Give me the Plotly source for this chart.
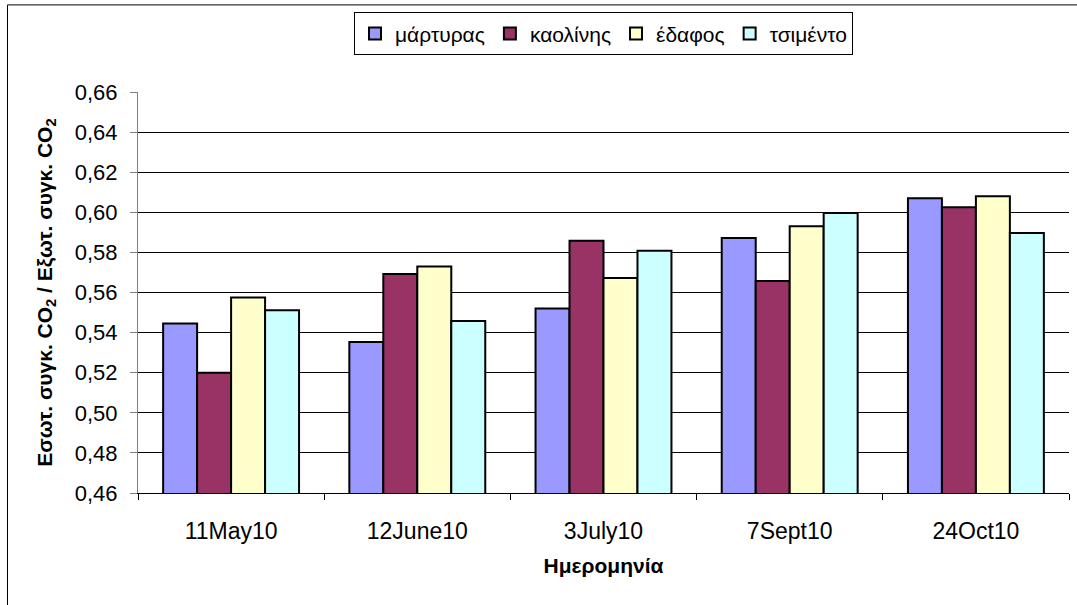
import plotly.graph_objects as go

categories = ["11May10", "12June10", "3July10", "7Sept10", "24Oct10"]
series_names = ["μάρτυρας", "καολίνης", "έδαφος", "τσιμέντο"]
martyras = [0.5445, 0.5353, 0.5520, 0.5872, 0.6070]
kaolinis = [0.5200, 0.5692, 0.5858, 0.5657, 0.6025]
edafos = [0.5575, 0.5730, 0.5672, 0.5930, 0.6080]
tsimento = [0.5512, 0.5458, 0.5808, 0.5997, 0.5897]
y_ticks = [0.46, 0.48, 0.50, 0.52, 0.54, 0.56, 0.58, 0.60, 0.62, 0.64, 0.66]

colors = ["#9999FF", "#993366", "#FFFFCC", "#CCFFFF"]
FONT = "Liberation Sans, Arial, sans-serif"

fig = go.Figure()
for name, vals, col in zip(series_names, [martyras, kaolinis, edafos, tsimento], colors):
    fig.add_trace(go.Bar(
        x=categories, y=vals, name=name,
        marker=dict(color=col, line=dict(color="black", width=2)),
    ))

fig.update_layout(
    width=1077, height=605,
    margin=dict(l=138, r=8, t=92, b=112, autoexpand=False),
    paper_bgcolor="white", plot_bgcolor="white",
    barmode="group", bargap=0.27, bargroupgap=0,
    separators=",.",
    font=dict(family=FONT, size=22, color="black"),
    legend=dict(
        orientation="h", x=0.5, xanchor="center", y=1.1985, yanchor="top",
        bordercolor="black", borderwidth=1, bgcolor="white",
        font=dict(family=FONT, size=21, color="black"),
        itemwidth=30, traceorder="normal",
    ),
    xaxis=dict(
        showline=True, linecolor="black", linewidth=1,
        ticks="outside", ticklen=6, tickcolor="black",
        tickson="boundaries", ticklabelstandoff=17,
        tickfont=dict(size=23),
        title=dict(text="<b>Ημερομηνία</b>", font=dict(size=21), standoff=15),
        showgrid=False,
    ),
    yaxis=dict(
        range=[0.46, 0.66], tickvals=y_ticks, tickformat=".2f",
        showline=True, linecolor="#808080", linewidth=1,
        ticks="outside", ticklen=7, tickcolor="#808080",
        ticklabelstandoff=8,
        showgrid=True, gridcolor="black", gridwidth=1,
        tickfont=dict(size=22),
        title=dict(text="<b>Εσωτ. συγκ. CO<sub>2</sub> / Εξωτ. συγκ. CO<sub>2</sub></b>",
                   font=dict(size=21), standoff=16),
        zeroline=False,
    ),
    shapes=[
        dict(type="line", xref="paper", yref="paper",
             x0=-(138 - 7.5) / 931, x1=(1077 - 138) / 931 + 0.01,
             y0=(493 - 5.5) / 400.5, y1=(493 - 5.5) / 400.5,
             line=dict(color="black", width=1)),
        dict(type="line", xref="paper", yref="paper",
             x0=-(138 - 7.5) / 931, x1=-(138 - 7.5) / 931,
             y0=(493 - 5.5) / 400.5, y1=-(605 - 493 + 5) / 400.5,
             line=dict(color="black", width=1)),
    ],
)

fig.write_html("out.html", config={"displayModeBar": False},
               post_script="document.body.style.margin='0';")
